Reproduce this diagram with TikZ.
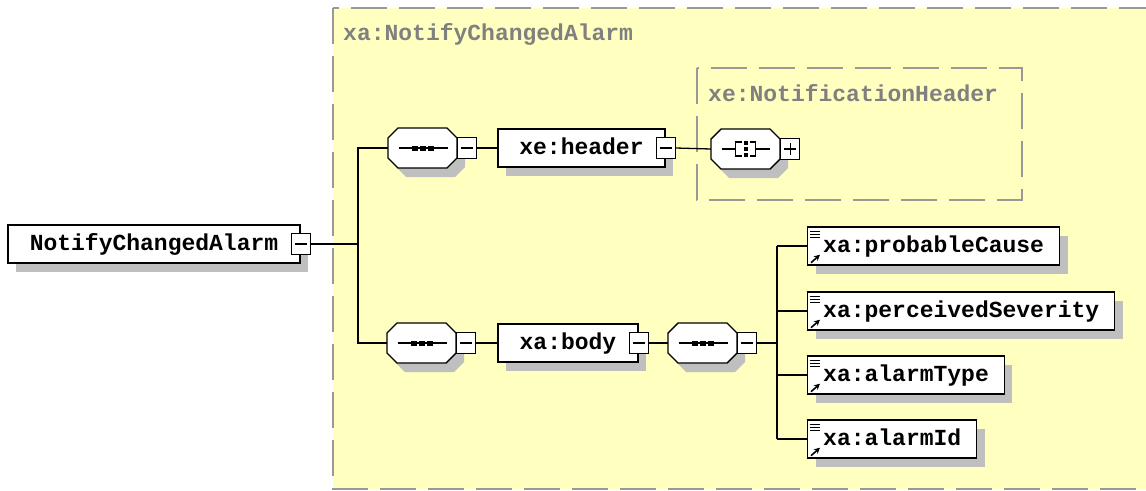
\documentclass[tikz,border=0pt]{standalone}
\usepackage{fontspec}
\setmonofont{Liberation Mono}
\usetikzlibrary{arrows.meta,positioning,shapes,shadows}
\definecolor{zoneyellow}{RGB}{255,255,192}
\definecolor{zonedash}{RGB}{153,153,153}
\definecolor{zonetext}{RGB}{128,128,128}

\begin{document}
\begin{tikzpicture}[x=1pt, y=-1pt,
    font=\ttfamily\bfseries\fontsize{23}{23}\selectfont,
    boxshadow/.style={drop shadow={shadow xshift=8pt, shadow yshift=-9pt, fill=gray!50, opacity=1}},
    zone/.style={draw=zonedash, line width=1.6pt, dash pattern=on 36pt off 12pt},
    zonelabel/.style={text=zonetext, anchor=west, inner sep=0pt},
    link/.style={line width=1.3pt},
    elem/.style={draw, fill=white, line width=1.4pt, boxshadow, minimum height=38pt,
      inner ysep=0pt, inner xsep=15.5pt, text height=16pt, text depth=4pt},
    compositor/.style={rectangle, minimum width=69pt, minimum height=40pt, inner sep=0pt},
    octagon/.style={insert path={(-34.5,-10) -- (-24.5,-20) -- (24.5,-20) -- (34.5,-10)
      -- (34.5,10) -- (24.5,20) -- (-24.5,20) -- (-34.5,10) -- cycle}},
    toggle/.style={draw, fill=white, line width=1.2pt, minimum width=19pt, minimum height=21pt, inner sep=0pt},
    minus/.style={toggle, path picture={
        \draw[line width=1.3pt, shift={(path picture bounding box.center)}] (-6,0) -- (6,0);
    }},
    plus/.style={toggle, path picture={
        \draw[line width=1.3pt, shift={(path picture bounding box.center)}] (-6,0) -- (6,0) (0,-6) -- (0,6);
    }}]

    \useasboundingbox (0,0) rectangle (1146,490);
    \fill[white] (0,0) rectangle (1146,490);

    % type zones
    \draw[zone, fill=zoneyellow] (333,8) rectangle (1175,489);
    \node[zonelabel] (zonetop) at (343,34) {xa:NotifyChangedAlarm};
    \draw[zone] (697,68) rectangle (1022,200);
    \node[zonelabel] (zonehdr) at (708,93) {xe:NotificationHeader};

    % root element
    \node[elem, minimum width=292pt] (root) at (154,244) {NotifyChangedAlarm};
    \node[minus] (rootm) at (root.east) {};
    \coordinate (fork) at (358,244);

    % elements and compositors
    \node[elem, minimum width=167pt] (header) at (581.5,148) {xe:header};
    \node[minus] (headerm) at (header.east) {};
    \node[elem, minimum width=140pt] (body) at (568,343) {xa:body};
    \node[minus] (bodym) at (body.east) {};
    \node[compositor] (seq1) at (422.5,148) {};
    \node[compositor] (seq2) at (421.5,343) {};
    \node[compositor] (seq3) at (702.5,343) {};
    \node[compositor] (choice) at (745.5,149) {};

    \foreach \c in {seq1,seq2,seq3,choice} {
      \fill[gray!50, shift={(\c.center)}, xshift=8pt, yshift=-9pt, octagon];
      \draw[line width=1.4pt, fill=white, shift={(\c.center)}, octagon];
    }
    \foreach \c in {seq1,seq2,seq3} {
      \draw[line width=1.2pt] ([xshift=-24pt]\c.center) -- ([xshift=25pt]\c.center);
      \foreach \dx in {-8,0,8}
        \fill[shift={(\c.center)}] (\dx-3,-2.5) rectangle ++(6,5);
    }
    \begin{scope}[shift={(choice.center)}, line width=1.2pt]
      \draw (-24,0) -- (-10,0) (-4,-7) -- (-10,-7) -- (-10,7) -- (-4,7);
      \draw (24,0) -- (10,0) (4,-7) -- (10,-7) -- (10,7) -- (4,7);
      \foreach \dy in {-6,0,6}
        \fill (-2,\dy-2) rectangle ++(4,4);
    \end{scope}

    \node[minus, anchor=west] (seq1m) at (seq1.east) {};
    \node[minus, anchor=west] (seq2m) at (seq2.east) {};
    \node[minus, anchor=west] (seq3m) at (seq3.east) {};
    \node[plus, anchor=west] (choicep) at (choice.east) {};
    \coordinate (kids) at (777,343);

    \foreach \n/\t/\y in {pc/probableCause/246, ps/perceivedSeverity/311, at/alarmType/375, ai/alarmId/439} {
      \node[elem, anchor=west] (\n) at (807,\y) {xa:\t};
      \draw[line width=1pt] ([shift={(3,5)}]\n.north west) -- ++(10,0)
        ([shift={(3,8)}]\n.north west) -- ++(10,0)
        ([shift={(3,11)}]\n.north west) -- ++(10,0);
      \draw[line width=1.6pt, -{Stealth[length=6pt,width=6pt]}] ([shift={(4,-3)}]\n.south west) -- ++(9,-8);
      \draw[link] (kids |- \n.west) -- (\n.west);
    }

    % connectors
    \draw[link] (rootm.east) -- (fork);
    \draw[link] (seq1.west) -| (fork) |- (seq2.west);
    \draw[link] (seq1m.east) -- (header.west);
    \draw[link] (headerm.east) -- (choice.west);
    \draw[link] (seq2m.east) -- (body.west);
    \draw[link] (bodym.east) -- (seq3.west);
    \draw[link] (seq3m.east) -- (kids);
    \draw[link] (kids |- pc.west) -- (kids |- ai.west);
\end{tikzpicture}
\end{document}
